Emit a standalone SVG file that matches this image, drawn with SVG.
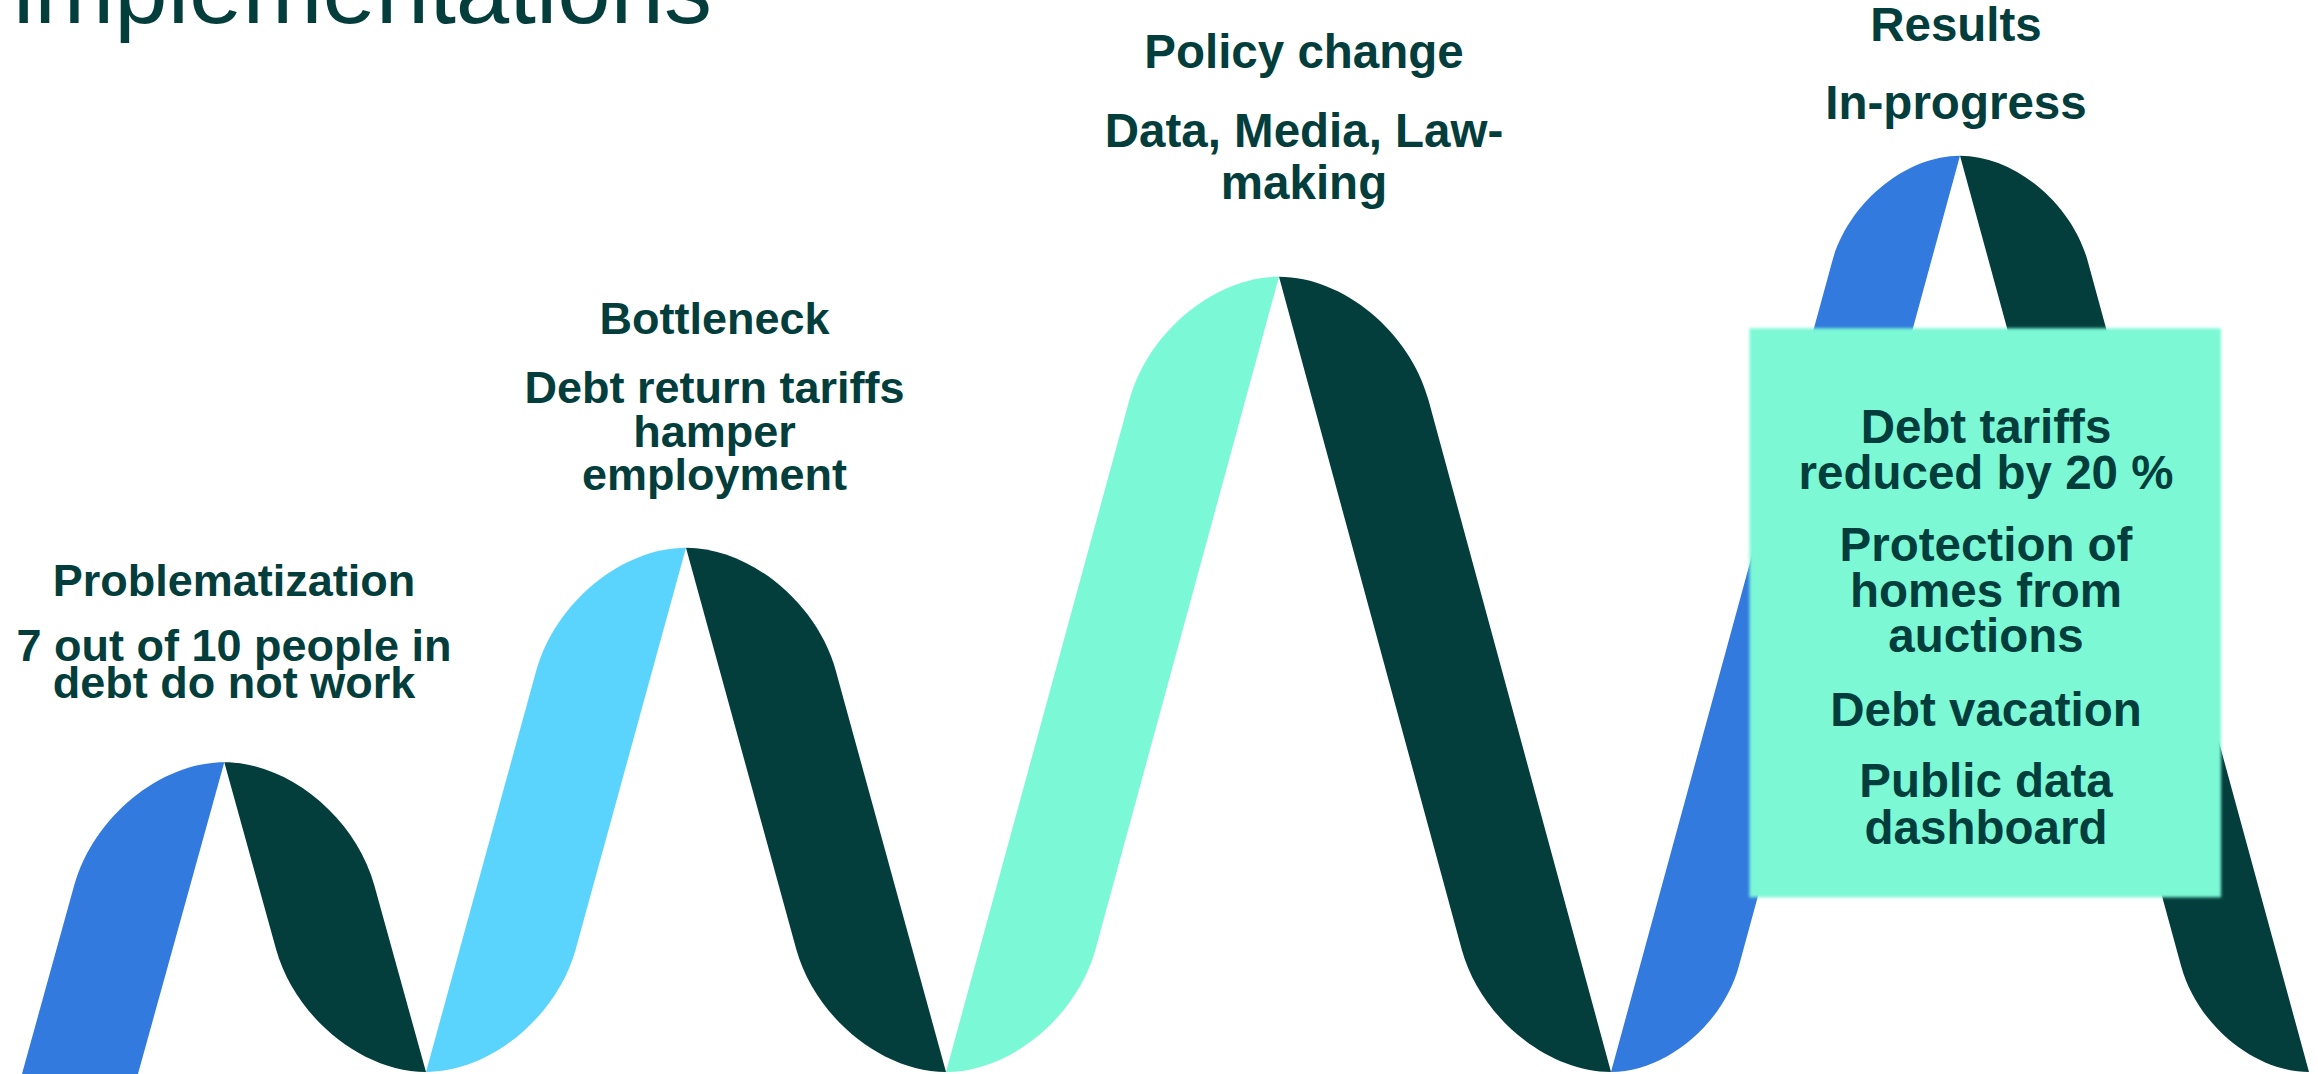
<svg xmlns="http://www.w3.org/2000/svg" width="2318" height="1074" viewBox="0 0 2318 1074">
  <defs>
    <style>
      .dark { fill: #033E3C; }
      .blue { fill: #327ADD; }
      .sky { fill: #5AD4FC; }
      .mint { fill: #7BF8D5; }
      .title { font-family: "Liberation Sans", Arial, sans-serif; font-size: 96px; fill: #033E3C; }
      .lbl { font-family: "Liberation Sans", Arial, sans-serif; font-weight: bold; fill: #033E3C; text-anchor: middle; }
      .s45 { font-size: 45px; }
      .s47 { font-size: 47.5px; }
    </style>
    <filter id="soft" x="-5%" y="-5%" width="110%" height="110%">
      <feGaussianBlur stdDeviation="1.6"/>
    </filter>
  </defs>
  <rect width="2318" height="1074" fill="#FFFFFF"/>

  <text class="title" x="13" y="23">implementations</text>

  <g id="connectors"></g>

  <g id="stage-problematization">
    <path class="blue" d="M20.3,1080 L74.2,885.3 C93.1,817.4 160.2,762.3 224.3,762.3 L136.3,1080 Z"/>
    <path class="dark" d="M224.3,762.3 C288.4,762.3 355.5,817.4 374.3,885.3 L426,1072 C361.9,1072 294.8,1016.9 276,949 Z"/>
    <text class="lbl s45" x="234" y="596">Problematization</text>
    <text class="lbl s45" x="234" y="661">7 out of 10 people in</text>
    <text class="lbl s45" x="234" y="698">debt do not work</text>
  </g>

  <g id="stage-bottleneck">
    <path class="sky" d="M426,1072 L536.2,670.7 C554.9,602.8 621.9,547.7 686,547.7 L575.8,949 C557.1,1016.9 490.1,1072 426,1072 Z"/>
    <path class="dark" d="M686,547.7 C750.1,547.7 817.1,602.8 835.8,670.7 L946,1072 C881.9,1072 814.9,1016.9 796.2,949 Z"/>
    <text class="lbl s45" x="714.5" y="334">Bottleneck</text>
    <text class="lbl s45" x="714.5" y="403">Debt return tariffs</text>
    <text class="lbl s45" x="714.5" y="447">hamper</text>
    <text class="lbl s45" x="714.5" y="490">employment</text>
  </g>

  <g id="stage-policy-change">
    <path class="mint" d="M946,1072 L1129.4,399.7 C1148,331.8 1214.9,276.7 1279,276.7 L1095.6,949 C1077,1016.9 1010.1,1072 946,1072 Z"/>
    <path class="dark" d="M1279,276.7 C1343.1,276.7 1410,331.8 1428.4,399.7 L1611,1072 C1546.9,1072 1480,1016.9 1461.6,949 Z"/>
    <text class="lbl s47" x="1304" y="68">Policy change</text>
    <text class="lbl s47" x="1304" y="147">Data, Media, Law-</text>
    <text class="lbl s47" x="1304" y="199">making</text>
  </g>

  <g id="stage-results">
    <path class="blue" d="M1611,1072 L1832.1,261.7 C1848.1,203.2 1905.3,155.7 1960,155.7 L1738.9,966 C1723,1024.5 1665.7,1072 1611,1072 Z"/>
    <path class="dark" d="M1960,155.7 C2014.7,155.7 2072,203.2 2087.9,261.7 L2309,1072 C2254.3,1072 2197.1,1024.5 2181.1,966 Z"/>
    <text class="lbl s47" x="1956" y="41">Results</text>
    <text class="lbl s47" x="1956" y="119">In-progress</text>
    <g id="results-box">
      <rect class="mint" x="1749.5" y="328.3" width="471.5" height="569" filter="url(#soft)"/>
      <text class="lbl s47" x="1986" y="443.4">Debt tariffs</text>
      <text class="lbl s47" x="1986" y="489">reduced by 20 %</text>
      <text class="lbl s47" x="1986" y="561">Protection of</text>
      <text class="lbl s47" x="1986" y="606.6">homes from</text>
      <text class="lbl s47" x="1986" y="652">auctions</text>
      <text class="lbl s47" x="1986" y="726">Debt vacation</text>
      <text class="lbl s47" x="1986" y="797">Public data</text>
      <text class="lbl s47" x="1986" y="844">dashboard</text>
    </g>
  </g>
</svg>
